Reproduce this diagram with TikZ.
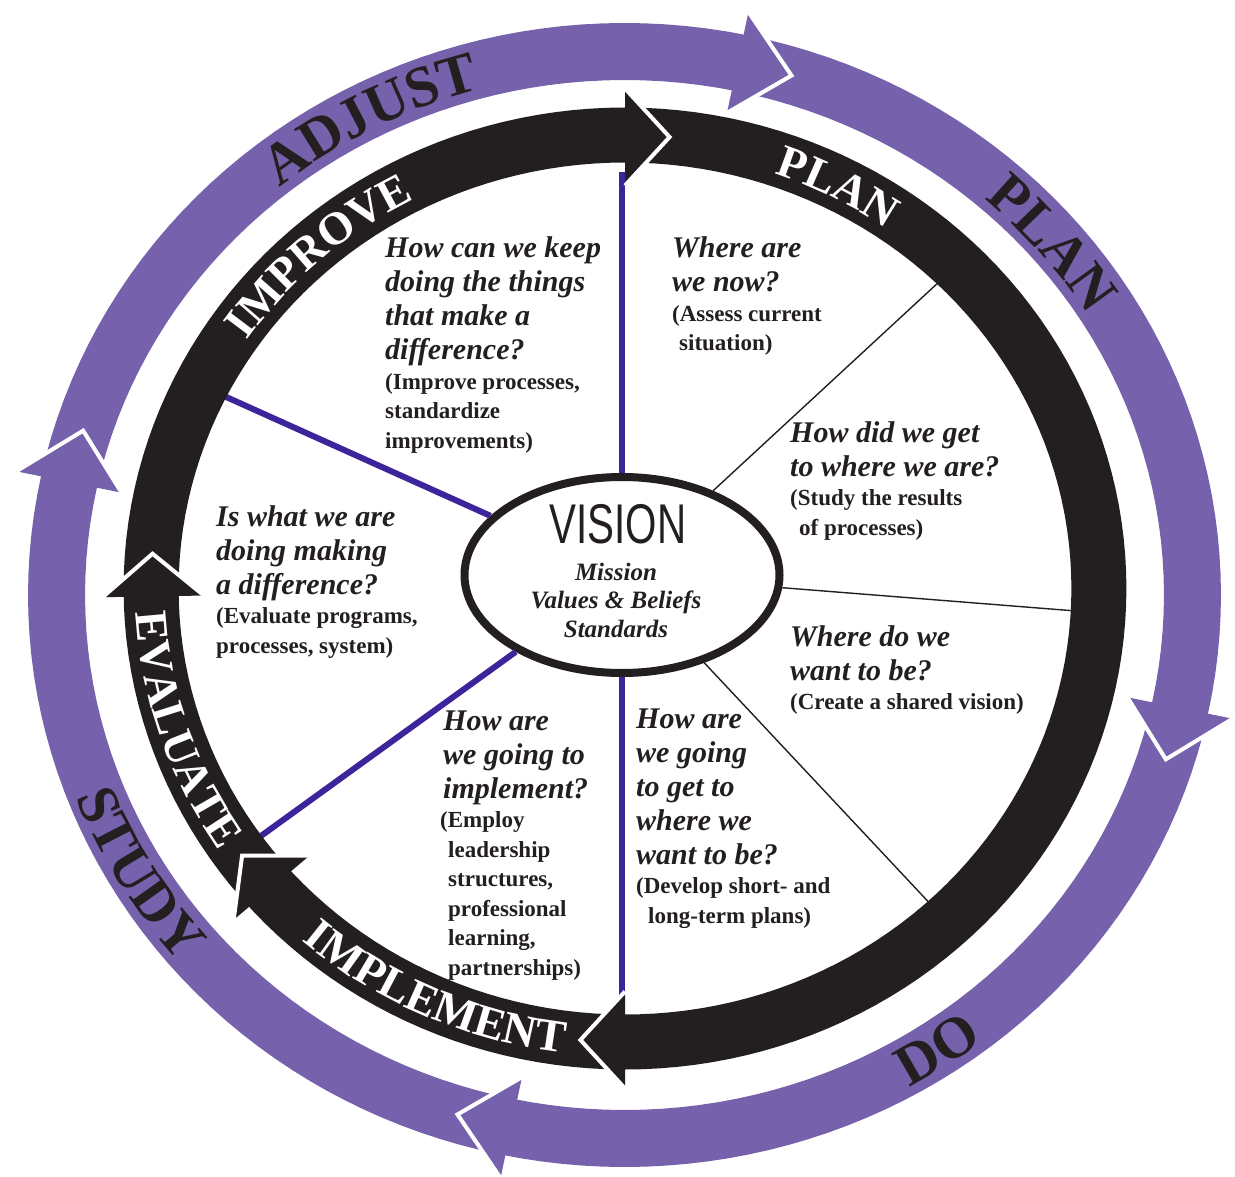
\documentclass[tikz,border=0pt]{standalone}
\usepackage{graphicx}
\usepackage{fontspec}
\setmainfont{Liberation Serif}
\newfontfamily\visionfamily{Liberation Sans}
\usetikzlibrary{shapes.geometric,decorations.text}

\definecolor{ringpurple}{RGB}{118,98,172}
\definecolor{spokeblue}{RGB}{62,36,155}
\definecolor{ink}{RGB}{35,31,32}

\newcommand\qfont{\fontsize{30}{34}\selectfont\bfseries\itshape}
\newcommand\pfont{\fontsize{23}{29.5}\selectfont\bfseries\upshape}
\newcommand\efont{\fontsize{25}{28.5}\selectfont\bfseries\itshape}
\newcommand\outerlabelfont{\fontsize{58}{60}\selectfont\bfseries}
\newcommand\innerlabelfont{\fontsize{46}{48}\selectfont\bfseries}
\newcommand\qblock[2]{\parbox[t]{420pt}{\raggedright\qfont #1\par\pfont #2\par}}

\tikzset{
  block/.style={anchor=base west, inner sep=0pt, text=ink},
  spoke/.style={draw=spokeblue, line width=6pt},
  divider/.style={draw=ink, line width=1.4pt},
  blackband/.style={draw=ink, line width=55pt},
  purpleband/.style={draw=ringpurple, line width=57pt},
  headedge/.style={draw=white, line width=4pt, line join=miter, miter limit=10},
  ringlabel/.style={decorate, decoration={text along path, text align=center,
      text color=#1}},
}

\begin{document}
\begin{tikzpicture}[x=1pt,y=-1pt]
\useasboundingbox (0,0) rectangle (1235,1177);
\fill[white] (0,0) rectangle (1235,1177);

% central ellipse
\node[ellipse, draw=ink, line width=8pt, fill=white, minimum width=315pt,
      minimum height=196pt, inner sep=0pt] (vision) at (622,575) {};

% ends of the spokes on the inner ring
\coordinate (topend) at (622,172);
\coordinate (bottomend) at (622,1012);
\coordinate (ulend) at (224,396);
\coordinate (llend) at (254,841);
\coordinate (d1) at (940,281);
\coordinate (d2) at (1076,611);
\coordinate (d3) at (936,910);

\draw[spoke] (vision.north) -- (topend);
\draw[spoke] (vision.south) -- (bottomend);
\draw[spoke] (vision) -- (ulend);
\draw[spoke] (vision) -- (llend);
\draw[divider] (vision) -- (d1);
\draw[divider] (vision) -- (d2);
\draw[divider] (vision) -- (d3);

% outer purple cycle
\begin{scope}[shift={(624.5,595)}, x={(1.045pt,0pt)}, y={(0pt,1pt)}]
  \draw[purpleband] plot[domain=0:360, samples=181] (\x:543.5) -- cycle;
  \foreach \b in {78.5,-12,-101.5,168} {
    \fill[ringpurple] (\b:595) -- ({\b-5.6}:543.5) -- (\b:492) -- cycle;
    \draw[headedge] (\b:595) -- ({\b-5.6}:543.5) -- (\b:492);
  }
  \path[ringlabel=ink, decoration={text={|\outerlabelfont|ADJUST}}]
    plot[domain=147.3:87.3, samples=61] (\x:524.5);
  \path[ringlabel=ink, decoration={text={|\outerlabelfont|PLAN}}]
    plot[domain=70.3:10.3, samples=61] (\x:524.5);
  \path[ringlabel=ink, decoration={text={|\outerlabelfont|DO}}]
    plot[domain=-86.4:-26.4, samples=61] (\x:562.5);
  \path[ringlabel=ink, decoration={text={|\outerlabelfont|STUDY}}]
    plot[domain=180.7:240.7, samples=61] (\x:562.5);
\end{scope}

% inner black cycle
\begin{scope}[shift={(625,588.5)}, x={(1.045pt,0pt)}, y={(0pt,1pt)}]
  \draw[blackband] plot[domain=0:360, samples=181] (\x:453.5) -- cycle;
  \foreach \b in {90,-90,221.5,181} {
    \fill[ink] (\b:500) -- ({\b-5.4}:453.5) -- (\b:403) -- cycle;
    \draw[headedge] (\b:500) -- ({\b-5.4}:453.5) -- (\b:403);
  }
  \path[ringlabel=white, decoration={text={|\innerlabelfont|PLAN}}]
    plot[domain=92.8:32.8, samples=61] (\x:438.5);
  \path[ringlabel=white, decoration={text={|\innerlabelfont|IMPROVE}}]
    plot[domain=161.7:101.7, samples=61] (\x:438.5);
  \path[ringlabel=white, decoration={text={|\innerlabelfont|IMPLEMENT}}]
    plot[domain=215.6:275.6, samples=61] (\x:468.5);
  \path[ringlabel=white, decoration={text={|\innerlabelfont|EVALUATE}}]
    plot[domain=168.4:228.4, samples=61] (\x:468.5);
\end{scope}

% centre texts
\node[anchor=base, inner sep=0pt, text=ink] (visiontitle) at (618,543)
  {\visionfamily\fontsize{56}{56}\selectfont\scalebox{0.72}[1]{VISION}};
\node[anchor=base, inner sep=0pt, text=ink] (visionsub) at (616,580)
  {\parbox[t]{220pt}{\centering\efont Mission\\Values \& Beliefs\\Standards\par}};

% questions of the cycle
\node[block] (improveq) at (385,258) {\qblock
  {How can we keep\\doing the things\\that make a\\difference?}
  {(Improve processes,\\standardize\\improvements)}};
\node[block] (nowq) at (672,258) {\qblock
  {Where are\\we now?}
  {(Assess current\\\hspace*{7pt}situation)}};
\node[block] (howq) at (790,442) {\qblock
  {How did we get\\to where we are?}
  {(Study the results\\\hspace*{9pt}of processes)}};
\node[block] (wantq) at (790,646) {\qblock
  {Where do we\\want to be?}
  {(Create a shared vision)}};
\node[block] (getq) at (636,728) {\qblock
  {How are\\we going\\to get to\\where we\\want to be?}
  {(Develop short- and\\\hspace*{12pt}long-term plans)}};
\node[block] (implq) at (443,730) {\qblock
  {How are\\we going to\\implement?}
  {\hspace*{-3pt}(Employ\\\hspace*{5pt}leadership\\\hspace*{5pt}structures,\\\hspace*{5pt}professional\\\hspace*{5pt}learning,\\\hspace*{5pt}partnerships)}};
\node[block] (evalq) at (216,526) {\qblock
  {Is what we are\\doing making\\a difference?}
  {(Evaluate programs,\\processes, system)}};
\end{tikzpicture}
\end{document}
